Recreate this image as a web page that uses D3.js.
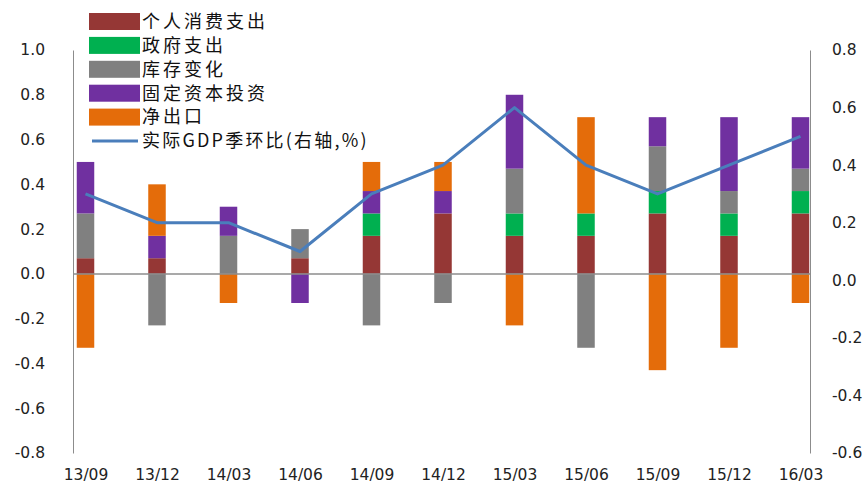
<!DOCTYPE html>
<html>
<head>
<meta charset="utf-8">
<script src="https://cdn.jsdelivr.net/npm/d3@7/dist/d3.min.js"></script>
<style>
  html, body { margin: 0; padding: 0; background: #fff; }
  svg { display: block; }
  .tick text { font-family: "DejaVu Sans", Verdana, sans-serif; fill: #222; }
  .legend text { font-family: "Noto Sans CJK SC", sans-serif; fill: #111; }
</style>
</head>
<body>
<svg id="chart" width="868" height="487"></svg>
<script>
// Quarters on the category axis
const quarters = ["13/09", "13/12", "14/03", "14/06", "14/09", "14/12", "15/03", "15/06", "15/09", "15/12", "16/03"];

// Contributions to quarter-on-quarter GDP growth (left axis, percentage points)
const consumption = [0.07, 0.07, 0.00, 0.07, 0.17, 0.27, 0.17, 0.17, 0.27, 0.17, 0.27];
const government  = [0.00, 0.00, 0.00, 0.00, 0.10, 0.00, 0.10, 0.10, 0.10, 0.10, 0.10];
const inventories = [0.20, -0.23, 0.17, 0.13, -0.23, -0.13, 0.20, -0.33, 0.20, 0.10, 0.10];
const fixedInvest = [0.23, 0.10, 0.13, -0.13, 0.10, 0.10, 0.33, 0.00, 0.13, 0.33, 0.23];
const netExports  = [-0.33, 0.23, -0.13, 0.00, 0.13, 0.13, -0.23, 0.43, -0.43, -0.33, -0.13];

// Real GDP growth, quarter on quarter (right axis, %)
const gdpQoQ = [0.3, 0.2, 0.2, 0.1, 0.3, 0.4, 0.6, 0.4, 0.3, 0.4, 0.5];

// Axis ticks
const leftTicks  = [-0.8, -0.6, -0.4, -0.2, 0.0, 0.2, 0.4, 0.6, 0.8, 1.0];
const rightTicks = [-0.6, -0.4, -0.2, 0.0, 0.2, 0.4, 0.6, 0.8];

const seriesKeys   = ["consumption", "government", "inventories", "fixedInvest", "netExports"];
const seriesNames  = ["个人消费支出", "政府支出", "库存变化", "固定资本投资", "净出口"];
const seriesColors = ["#953735", "#00B050", "#808080", "#7030A0", "#E46C0A"];
const lineName = "实际GDP季环比(右轴,%)";
const lineColor = "#4A7EBB";

const table = quarters.map((q, i) => ({
  quarter: q,
  consumption: consumption[i],
  government: government[i],
  inventories: inventories[i],
  fixedInvest: fixedInvest[i],
  netExports: netExports[i]
}));

const svg = d3.select("#chart");
const plot = { left: 73, right: 810, top: 50, bottom: 453 };

const x = d3.scalePoint().domain(quarters).range([85.5, 800.5]);
const barW = 17.5;
const yL = d3.scaleLinear().domain([-0.8, 1.0]).range([plot.bottom, plot.top]);
const yR = d3.scaleLinear().domain([-0.6, 0.8]).range([plot.bottom, plot.top]);

// One decimal, plain hyphen for negatives
const fmt = v => d3.format(".1f")(v).replace("\u2212", "-");

// Stacked bars, positives upward and negatives downward from zero
const stacked = d3.stack().keys(seriesKeys).offset(d3.stackOffsetDiverging)(table);

svg.append("g").selectAll("g")
  .data(stacked)
  .join("g")
  .attr("fill", (d, i) => seriesColors[i])
  .selectAll("rect")
  .data(d => d.filter(s => s[1] !== s[0]))
  .join("rect")
  .attr("x", d => x(d.data.quarter) - barW / 2)
  .attr("width", barW)
  .attr("y", d => yL(Math.max(d[0], d[1])))
  .attr("height", d => Math.abs(yL(d[0]) - yL(d[1])));

// Zero line
svg.append("line")
  .attr("x1", plot.left).attr("x2", plot.right)
  .attr("y1", yL(0)).attr("y2", yL(0))
  .attr("stroke", "#8c8c8c").attr("stroke-width", 1.5);

// Left axis
const axL = svg.append("g")
  .attr("transform", `translate(${plot.left},0)`)
  .call(d3.axisLeft(yL).tickValues(leftTicks).tickFormat(fmt).tickSize(0).tickPadding(28));
axL.select(".domain").attr("stroke", "#8c8c8c");
axL.selectAll(".tick text").attr("font-size", 15.5);

// Right axis
const axR = svg.append("g")
  .attr("transform", `translate(${plot.right},0)`)
  .call(d3.axisRight(yR).tickValues(rightTicks).tickFormat(fmt).tickSize(0).tickPadding(22));
axR.select(".domain").attr("stroke", "#8c8c8c");
axR.selectAll(".tick text").attr("font-size", 15.5);

// Category axis (labels only)
const axB = svg.append("g")
  .attr("transform", `translate(0,${plot.bottom})`)
  .call(d3.axisBottom(x).tickSize(0).tickPadding(16));
axB.select(".domain").remove();
axB.selectAll(".tick text").attr("font-size", 15.5);

// GDP line on the right axis
svg.append("path")
  .datum(gdpQoQ)
  .attr("fill", "none")
  .attr("stroke", lineColor)
  .attr("stroke-width", 3)
  .attr("stroke-linejoin", "round")
  .attr("d", d3.line().x((d, i) => x(quarters[i])).y(d => yR(d)));

// Legend
const legend = svg.append("g").attr("class", "legend");
const rowY = i => 21.5 + i * 23.9;
seriesNames.forEach((name, i) => {
  legend.append("rect")
    .attr("x", 89).attr("y", rowY(i) - 8.5)
    .attr("width", 51).attr("height", 17)
    .attr("fill", seriesColors[i]);
  legend.append("text")
    .attr("x", 142).attr("y", rowY(i))
    .attr("dy", "0.35em")
    .attr("font-size", 18)
    .attr("letter-spacing", 3)
    .text(name);
});
const li = seriesNames.length;
legend.append("line")
  .attr("x1", 92).attr("x2", 138)
  .attr("y1", rowY(li)).attr("y2", rowY(li))
  .attr("stroke", lineColor).attr("stroke-width", 3);
legend.append("text")
  .attr("x", 142).attr("y", rowY(li))
  .attr("dy", "0.35em")
  .attr("font-size", 18)
  .attr("letter-spacing", 2.2)
  .text(lineName);
</script>
</body>
</html>
